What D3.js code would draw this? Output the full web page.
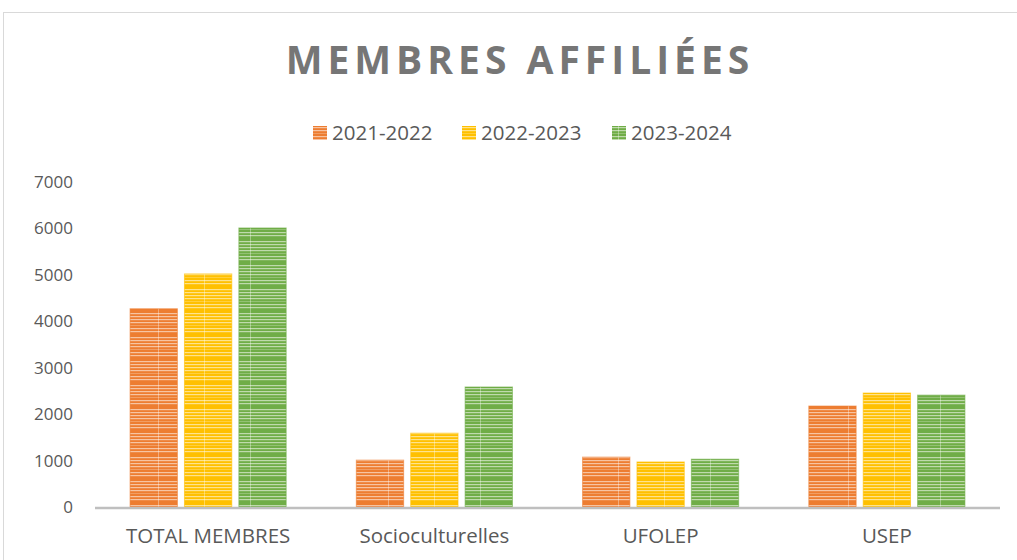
<!DOCTYPE html>
<html>
<head>
<meta charset="utf-8">
<script src="https://cdn.jsdelivr.net/npm/d3@7"></script>
<style>
  body { margin: 0; background: #fff; }
  text { font-family: "Open Sans", "Liberation Sans", sans-serif; }
</style>
</head>
<body>
<div id="chart"></div>
<script>
const categories = ["TOTAL MEMBRES", "Socioculturelles", "UFOLEP", "USEP"];
const seriesNames = ["2021-2022", "2022-2023", "2023-2024"];
const values2122 = [4270, 1010, 1075, 2175];
const values2223 = [5020, 1590, 970, 2455];
const values2324 = [6010, 2585, 1030, 2410];
const yTicks = [0, 1000, 2000, 3000, 4000, 5000, 6000, 7000];
const colors = ["#ED7D31", "#FFC000", "#70AD47"];

const allSeries = [values2122, values2223, values2324];

const width = 1017, height = 560;
const margin = {top: 182, right: 17, bottom: 53, left: 95};

const svg = d3.select('#chart').append('svg')
  .attr('width', width)
  .attr('height', height);

// patterns - horizontal stripes like the Excel texture
const defs = svg.append('defs');
colors.forEach((c, i) => {
  const p = defs.append('pattern')
    .attr('id', 'pat' + i)
    .attr('patternUnits', 'userSpaceOnUse')
    .attr('width', 46)
    .attr('height', 24);
  p.append('rect').attr('width', 46).attr('height', 24).attr('fill', c);
  [1, 4, 7, 10, 16, 19].forEach(y => {
    p.append('rect').attr('x', 0).attr('y', y).attr('width', 46).attr('height', 1.2)
      .attr('fill', '#fff').attr('opacity', 0.55);
  });
  p.append('rect').attr('x', 0).attr('y', 13).attr('width', 46).attr('height', 0.8)
    .attr('fill', '#fff').attr('opacity', 0.3);
  p.append('rect').attr('x', 20).attr('y', 0).attr('width', 1).attr('height', 24)
    .attr('fill', '#fff').attr('opacity', 0.35);
});

// chart border
svg.append('rect')
  .attr('x', 3.5).attr('y', 12.5)
  .attr('width', 1030).attr('height', 560)
  .attr('fill', 'none')
  .attr('stroke', '#d9d9d9');

const x0 = d3.scaleBand()
  .domain(categories)
  .range([margin.left, width - margin.right])
  .paddingInner(0.31)
  .paddingOuter(0.155);

const x1 = d3.scaleBand()
  .domain(seriesNames)
  .range([0, x0.bandwidth()])
  .paddingInner(0.13);

const y = d3.scaleLinear()
  .domain([0, 7000])
  .range([height - margin.bottom, margin.top]);

// y labels
svg.append('g')
  .selectAll('text')
  .data(yTicks)
  .join('text')
  .attr('x', 73)
  .attr('y', d => y(d))
  .attr('dy', '0.35em')
  .attr('text-anchor', 'end')
  .attr('fill', '#595959')
  .style('font-size', '17px')
  .text(d => d);

// bars
seriesNames.forEach((s, si) => {
  svg.append('g')
    .selectAll('rect')
    .data(categories)
    .join('rect')
    .attr('x', d => x0(d) + x1(s))
    .attr('y', (d, i) => y(allSeries[si][i]))
    .attr('width', x1.bandwidth())
    .attr('height', (d, i) => y(0) - y(allSeries[si][i]))
    .attr('fill', `url(#pat${si})`)
    .attr('stroke', colors[si])
    .attr('stroke-opacity', 0.6)
    .attr('stroke-width', 1);
});

// x axis line
svg.append('line')
  .attr('x1', margin.left).attr('x2', width - margin.right)
  .attr('y1', y(0) + 1).attr('y2', y(0) + 1)
  .attr('stroke', '#bfbfbf')
  .attr('stroke-width', 2.5);

// category labels
svg.append('g')
  .selectAll('text')
  .data(categories)
  .join('text')
  .attr('x', d => x0(d) + x0.bandwidth() / 2)
  .attr('y', 543)
  .attr('text-anchor', 'middle')
  .attr('fill', '#595959')
  .style('font-size', '20.5px')
  .text(d => d);

// title
svg.append('text')
  .attr('x', 520)
  .attr('y', 74)
  .attr('text-anchor', 'middle')
  .attr('fill', '#767676')
  .style('font-size', '39px')
  .style('font-weight', 'bold')
  .style('letter-spacing', '5px')
  .text('MEMBRES AFFILIÉES');

// legend
const legendX = [313, 462, 612];
const legend = svg.append('g');
seriesNames.forEach((s, i) => {
  legend.append('rect')
    .attr('x', legendX[i]).attr('y', 126)
    .attr('width', 14).attr('height', 14)
    .attr('fill', `url(#pat${i})`);
  legend.append('text')
    .attr('x', legendX[i] + 19)
    .attr('y', 140)
    .attr('fill', '#595959')
    .style('font-size', '20.5px')
    .text(s);
});
</script>
</body>
</html>
